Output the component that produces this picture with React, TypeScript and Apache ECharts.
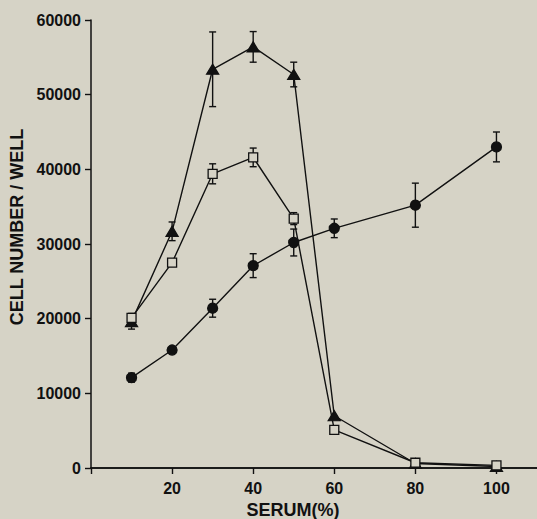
import React, { useEffect, useRef } from "react";
import * as echarts from "echarts";

const serum = [10, 20, 30, 40, 50, 60, 80, 100];
const triangleValues = [19600, 31700, 53400, 56400, 52700, 7000, 600, 200];
const triangleErrors = [1000, 1250, 5000, 2050, 1650, 0, 0, 0];
const squareValues = [20100, 27500, 39400, 41600, 33400, 5100, 700, 350];
const squareErrors = [600, 300, 1340, 1250, 800, 0, 0, 0];
const circleValues = [12100, 15800, 21400, 27100, 30200, 32100, 35200, 43000];
const circleErrors = [600, 0, 1200, 1600, 1800, 1250, 2950, 2000];
const xTickValues = [0, 20, 40, 60, 80, 100];
const xLabelValues = [20, 40, 60, 80, 100];

const BG = "#d6d3c6";
const INK = "#111111";

function errData(vals: number[], errs: number[]) {
  const out: number[][] = [];
  vals.forEach((v, i) => {
    if (errs[i] > 0) out.push([serum[i], v - errs[i], v + errs[i]]);
  });
  return out;
}

function errSeries(vals: number[], errs: number[]) {
  return {
    type: "custom",
    z: 1,
    data: errData(vals, errs),
    encode: { x: 0, y: [1, 2] },
    renderItem: (params: any, api: any) => {
      const x = api.value(0);
      const p1 = api.coord([x, api.value(1)]);
      const p2 = api.coord([x, api.value(2)]);
      const w = 3.5;
      const st = { stroke: INK, lineWidth: 1.4 };
      return {
        type: "group",
        children: [
          { type: "line", shape: { x1: p1[0], y1: p1[1], x2: p2[0], y2: p2[1] }, style: st },
          { type: "line", shape: { x1: p1[0] - w, y1: p1[1], x2: p1[0] + w, y2: p1[1] }, style: st },
          { type: "line", shape: { x1: p2[0] - w, y1: p2[1], x2: p2[0] + w, y2: p2[1] }, style: st },
        ],
      };
    },
  };
}

function lineSeries(vals: number[], symbol: string, size: any, fill: string) {
  return {
    type: "line",
    z: 3,
    data: vals.map((v, i) => [serum[i], v]),
    symbol,
    symbolSize: size,
    showAllSymbol: true,
    lineStyle: { color: INK, width: 1.4 },
    itemStyle: { color: fill, borderColor: INK, borderWidth: 1.3 },
    emphasis: { disabled: true },
  };
}

export default function App() {
  const ref = useRef<HTMLDivElement>(null);
  useEffect(() => {
    document.body.style.margin = "0";
    const chart = echarts.init(ref.current!, null, { renderer: "svg" });
    const font = "'Liberation Sans', Arial, Helvetica, sans-serif";
    chart.setOption({
      animation: false,
      backgroundColor: BG,
      textStyle: { fontFamily: font },
      grid: { left: 91, top: 20, right: 0, bottom: 51 },
      xAxis: [
        {
          type: "value",
          min: 0,
          max: 110,
          interval: 20,
          splitLine: { show: false },
          axisLine: { show: true, onZero: false, lineStyle: { color: INK, width: 1.5 } },
          axisTick: { show: true, length: 6, customValues: xTickValues, lineStyle: { color: INK, width: 1.4 } },
          axisLabel: {
            customValues: xLabelValues,
            color: INK,
            fontSize: 16,
            fontWeight: "bold",
            fontFamily: font,
            margin: 12,
            formatter: (v: number) => String(v),
          },
        },
        {
          type: "value",
          position: "top",
          min: 0,
          max: 110,
          splitLine: { show: false },
          axisLine: { show: true, lineStyle: { color: INK, width: 1.5 } },
          axisTick: { show: false },
          axisLabel: { show: false },
        },
      ],
      yAxis: {
        type: "value",
        min: 0,
        max: 60000,
        interval: 10000,
        splitLine: { show: false },
        axisLine: { show: true, lineStyle: { color: INK, width: 1.5 } },
        axisTick: { show: true, length: 6, lineStyle: { color: INK, width: 1.4 } },
        axisLabel: {
          color: INK,
          fontSize: 16,
          fontWeight: "bold",
          fontFamily: font,
          margin: 10,
          formatter: (v: number) => String(v),
        },
      },
      graphic: [
        {
          type: "text",
          x: 293,
          y: 510,
          style: {
            text: "SERUM(%)",
            fill: INK,
            font: `bold 18px ${font}`,
            align: "center",
            verticalAlign: "middle",
          },
        },
        {
          type: "text",
          x: 17,
          y: 227,
          rotation: Math.PI / 2,
          style: {
            text: "CELL NUMBER / WELL",
            fill: INK,
            font: `bold 18px ${font}`,
            align: "center",
            verticalAlign: "middle",
          },
        },
      ],
      series: [
        errSeries(triangleValues, triangleErrors),
        errSeries(squareValues, squareErrors),
        errSeries(circleValues, circleErrors),
        lineSeries(circleValues, "circle", 10, INK),
        lineSeries(triangleValues, "triangle", [12, 10], INK),
        lineSeries(squareValues, "rect", 9, BG),
      ],
    });
    return () => chart.dispose();
  }, []);
  return <div ref={ref} style={{ width: 537, height: 519 }} />;
}
